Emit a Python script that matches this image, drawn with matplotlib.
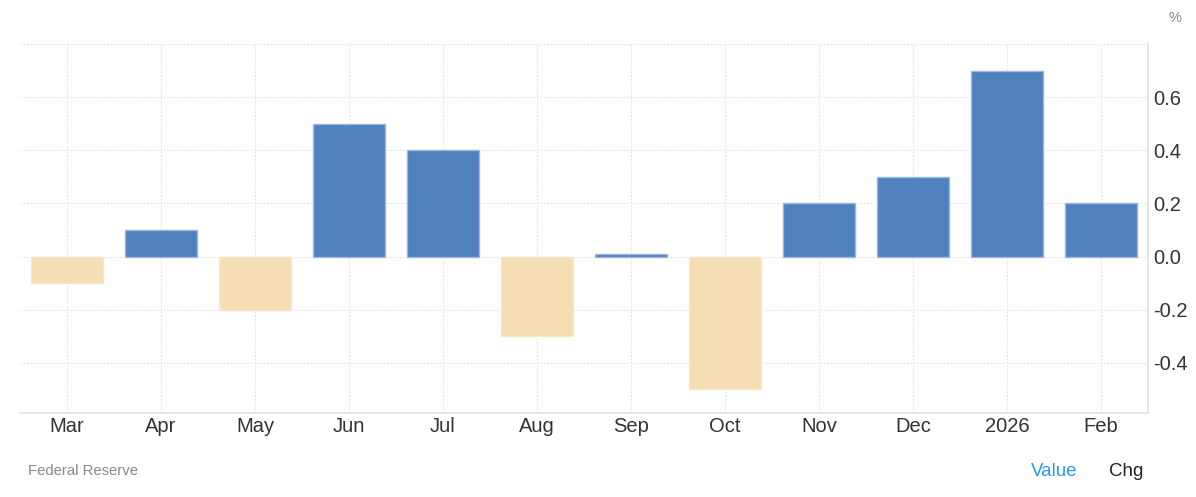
import numpy as np
import matplotlib
matplotlib.use("Agg")
import matplotlib.pyplot as plt

# ======================================================
# Data (monthly change, %)
# ======================================================
months = ["Mar", "Apr", "May", "Jun", "Jul", "Aug", "Sep", "Oct", "Nov", "Dec", "2026", "Feb"]
changes = [-0.1, 0.1, -0.2, 0.5, 0.4, -0.3, 0.01, -0.5, 0.2, 0.3, 0.7, 0.2]
ytick_vals = [-0.4, -0.2, 0.0, 0.2, 0.4, 0.6]

BLUE = "#4e81bd"
BEIGE = "#f5deb3"

plt.rcParams["font.family"] = ["Liberation Sans", "DejaVu Sans"]

fig = plt.figure(figsize=(11.96, 4.97), dpi=100)
ax = fig.add_axes([20 / 1196, 1 - 413 / 497, 1128 / 1196, 370 / 497])

x = np.arange(len(months))
colors = [BLUE if v >= 0 else BEIGE for v in changes]
edges = ["#9bb7dc" if v >= 0 else "#f8e8c8" for v in changes]
ax.bar(x, changes, width=0.77, color=colors, edgecolor=edges, linewidth=1, zorder=3)

ax.set_xlim(-0.5, len(months) - 0.5)
ax.set_ylim(-0.59, 0.805)

# grid
ax.set_xticks(x)
ax.set_xticklabels(months)
ax.set_yticks(ytick_vals)
ax.set_yticklabels([f"{v:.1f}" for v in ytick_vals])
ax.grid(True, color="#e3e3e3", linestyle=(0, (1.5, 1.5)), linewidth=0.8, zorder=0)
ax.axhline(0.8, color="#e3e3e3", linestyle=(0, (1.5, 1.5)), linewidth=0.8, zorder=0)

ax.yaxis.tick_right()
ax.tick_params(axis="both", length=0, labelsize=14.5, labelcolor="#333333")
ax.tick_params(axis="x", pad=3)
ax.tick_params(axis="y", pad=4)

for side in ["left", "top"]:
    ax.spines[side].set_visible(False)
for side in ["right", "bottom"]:
    ax.spines[side].set_color("#e0e0e0")
    ax.spines[side].set_linewidth(1.2)

# annotations
fig.text(1175 / 1196, 1 - 18 / 497, "%", ha="center", va="center", fontsize=10.5, color="#888888")
fig.text(28 / 1196, 1 - 471 / 497, "Federal Reserve", ha="left", va="center", fontsize=10.7, color="#888888")
fig.text(1031 / 1196, 1 - 471 / 497, "Value", ha="left", va="center", fontsize=13.5, color="#2e96f0")
fig.text(1109 / 1196, 1 - 471 / 497, "Chg", ha="left", va="center", fontsize=13.5, color="#222222")

fig.savefig("out.png", dpi=100)
